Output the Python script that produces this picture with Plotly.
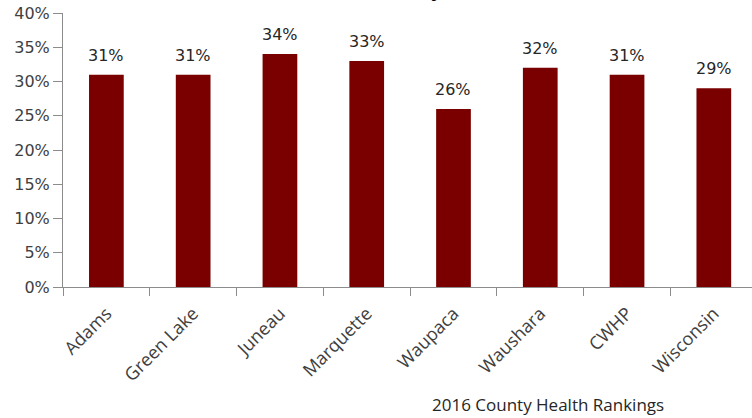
import plotly.graph_objects as go

counties = ["Adams", "Green Lake", "Juneau", "Marquette", "Waupaca", "Waushara", "CWHP", "Wisconsin"]
obesity = [0.31, 0.31, 0.34, 0.33, 0.26, 0.32, 0.31, 0.29]
y_ticks = [0, 0.05, 0.10, 0.15, 0.20, 0.25, 0.30, 0.35, 0.40]

BAR = "#7A0000"
AXIS = "#8C8C8C"
TEXT = "#404040"

fig = go.Figure(
    go.Bar(
        x=counties,
        y=obesity,
        marker_color=BAR,
        marker_line_width=0,
    )
)

for name, val in zip(counties, obesity):
    fig.add_annotation(
        x=name,
        y=val,
        text=f"{val:.0%}",
        showarrow=False,
        yanchor="bottom",
        yshift=8,
        font=dict(family="DejaVu Sans", size=16, color="#262626"),
    )

# title sits mostly above the visible page, only the descender shows
fig.add_annotation(
    xref="paper", yref="paper", x=0.556, y=1.037,
    xanchor="right", yanchor="bottom",
    text="<b>Adult Obesity</b>", showarrow=False,
    font=dict(family="Liberation Sans", size=22, color="#000000"),
)

fig.add_annotation(
    xref="paper", yref="paper", x=0.704, y=-0.43,
    xanchor="center", yanchor="middle",
    text="2016 County Health Rankings", showarrow=False,
    font=dict(family="Open Sans", size=17, color="#262626"),
)

fig.update_xaxes(
    range=[-0.5, 7.44],
    tickangle=-45,
    tickson="boundaries",
    ticks="outside",
    ticklen=8,
    tickcolor=AXIS,
    showline=True,
    linecolor=AXIS,
    linewidth=1,
    showgrid=False,
    automargin=False,
    ticklabelstandoff=8,
    tickfont=dict(family="Open Sans", size=18, color=TEXT),
    fixedrange=True,
)
fig.update_yaxes(
    range=[0, 0.40],
    tickvals=y_ticks,
    tickformat=".0%",
    ticks="outside",
    ticklen=9,
    tickcolor=AXIS,
    showline=True,
    linecolor=AXIS,
    linewidth=1,
    showgrid=False,
    zeroline=False,
    automargin=False,
    tickfont=dict(family="DejaVu Sans", size=16, color=TEXT),
    fixedrange=True,
)
fig.update_layout(
    width=752,
    height=418,
    bargap=0.6,
    showlegend=False,
    paper_bgcolor="white",
    plot_bgcolor="white",
    margin={"l": 63, "t": 13, "r": 0, "b": 131},
)

# drop the browser's default body margin so the figure sits at the page corner
fig.write_html(
    "out.html",
    config={"displayModeBar": False},
    post_script="document.body.style.margin = '0';",
)
